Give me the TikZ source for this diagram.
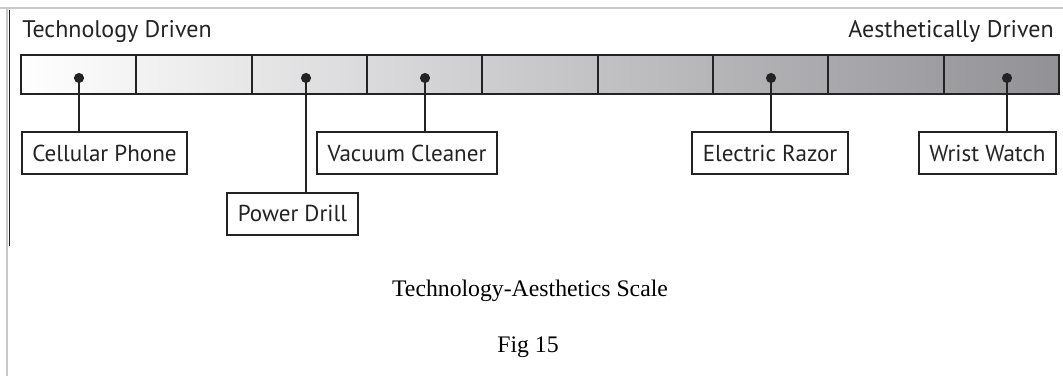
\documentclass[tikz,border=0pt]{standalone}
\usepackage{fontspec}
\setmainfont{Liberation Serif}
\newfontfamily\labelfont{PT Sans}
\usetikzlibrary{positioning,calc}

\definecolor{scaleend}{RGB}{145,145,150}
\definecolor{inkgray}{RGB}{35,35,35}
\definecolor{framegray}{RGB}{200,200,200}

\tikzset{
  itembox/.style={draw=inkgray, line width=1.5pt, fill=white, font=\labelfont\fontsize{17.3}{19}\selectfont,
    text=inkgray, inner xsep=8pt, minimum height=31.5pt},
  endlabel/.style={font=\labelfont\fontsize{18}{20}\selectfont, text=inkgray, inner sep=0pt},
  caption/.style={font=\fontsize{17.8}{20}\selectfont, inner sep=0pt}
}

\begin{document}
\begin{tikzpicture}[x=0.75pt,y=-0.75pt]
    \useasboundingbox (0,0) rectangle (1063,376);

    % Page frame
    \draw[framegray, line width=2.2pt] (0,8) -- (1063,8);
    \draw[framegray, line width=2.2pt] (7,8) -- (7,376);
    \draw[inkgray, line width=1.3pt] (9.5,10) -- (9.5,246);

    % End labels
    \node[endlabel, anchor=base west] (tech) at (22,37) {Technology Driven};
    \node[endlabel, anchor=base east] (aesth) at (1054,37) {Aesthetically Driven};

    % Shaded scale bar
    \shade[left color=white, right color=scaleend] (21,55) rectangle (1059,94);
    \draw[inkgray, line width=1.5pt] (21,55) rectangle (1059,94);
    \foreach \i in {1,...,8} {
        \draw[inkgray, line width=1.5pt] ({21+\i*115.33},55) -- ({21+\i*115.33},94);
    }

    % Product positions on the scale
    \foreach \name/\x in {phone/79, drill/306, vacuum/425, razor/771, watch/1007} {
        \coordinate (\name-dot) at (\x,78);
        \fill[inkgray] (\name-dot) circle (3.8pt);
    }

    % Product boxes
    \node[itembox] (phone) at (104.5,153) {Cellular Phone};
    \node[itembox] (vacuum) at (407,153) {Vacuum Cleaner};
    \node[itembox] (drill) at (292.5,213.5) {Power Drill};
    \node[itembox] (razor) at (770,153) {Electric Razor};
    \node[itembox] (watch) at (987.5,153) {Wrist Watch};

    % Leader lines
    \foreach \name in {phone, drill, vacuum, razor, watch} {
        \draw[inkgray, line width=1.5pt] (\name-dot) -- (\name-dot |- \name.north);
    }

    % Caption
    \node[caption, anchor=base] (title) at (530,296) {Technology-Aesthetics Scale};
    \node[caption, anchor=base] (fig) at (528,352) {Fig 15};
\end{tikzpicture}
\end{document}
